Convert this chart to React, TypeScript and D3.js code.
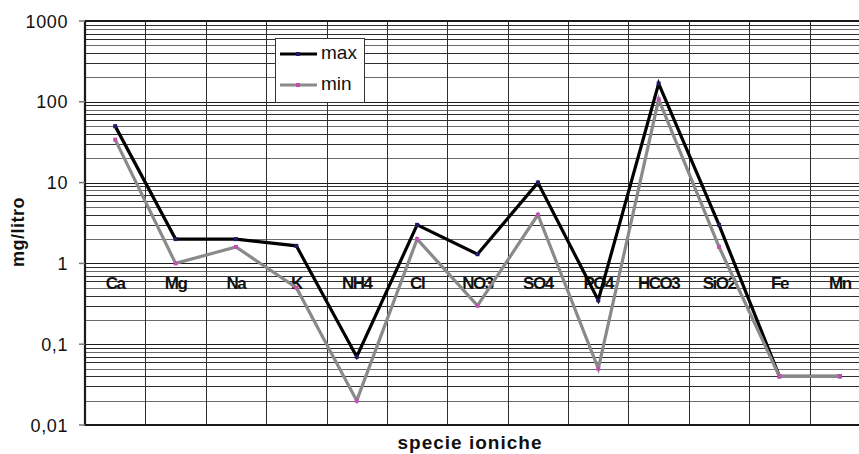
import { useEffect, useRef } from "react";
import * as d3 from "d3";

const categories = ["Ca", "Mg", "Na", "K", "NH4", "Cl", "NO3", "SO4", "PO4", "HCO3", "SiO2", "Fe", "Mn"];
const maxValues = [50, 2, 2, 1.65, 0.07, 3, 1.3, 10, 0.35, 168, 3, 0.04, 0.04];
const minValues = [34, 1, 1.6, 0.5, 0.02, 2, 0.3, 4, 0.05, 107, 1.6, 0.04, 0.04];
const yTicks = [1000, 100, 10, 1, 0.1, 0.01];
const yTickLabels = ["1000", "100", "10", "1", "0,1", "0,01"];

const width = 859;
const height = 454;
const marginLeft = 85;
const plotRight = 870; // the plot runs past the picture edge
const marginTop = 21;
const plotBottom = 425;

function App() {
  const ref = useRef(null);

  useEffect(() => {
    const svg = d3.select(ref.current);
    svg.selectAll("*").remove();

    const x = d3.scaleBand().domain(categories).range([marginLeft, plotRight]).padding(0);
    const y = d3.scaleLog().domain([0.01, 1000]).range([plotBottom, marginTop]);
    const cx = (c) => x(c) + x.bandwidth() / 2;

    const g = svg.append("g");

    // horizontal gridlines (major + minor)
    const gridVals = [];
    for (let e = -2; e <= 2; e++) {
      for (let k = 1; k <= 9; k++) gridVals.push(k * Math.pow(10, e));
    }
    g.append("g")
      .selectAll("line")
      .data(gridVals)
      .join("line")
        .attr("x1", marginLeft)
        .attr("x2", width)
        .attr("y1", d => Math.round(y(d)) + 0.5)
        .attr("y2", d => Math.round(y(d)) + 0.5)
        .attr("stroke", (d, i) => (i % 9 === 0 ? "#1a1a1a" : i % 3 === 1 ? "#6a6a6a" : "#2e2e2e"))
        .attr("stroke-width", 1);

    // vertical gridlines between categories
    g.append("g")
      .selectAll("line")
      .data(categories.slice(1))
      .join("line")
        .attr("x1", d => Math.round(x(d)) + 0.5)
        .attr("x2", d => Math.round(x(d)) + 0.5)
        .attr("y1", marginTop)
        .attr("y2", plotBottom)
        .attr("stroke", "#2e2e2e")
        .attr("stroke-width", 1);

    // top border
    g.append("line")
      .attr("x1", marginLeft).attr("x2", width)
      .attr("y1", y(1000)).attr("y2", y(1000))
      .attr("stroke", "#1a1a1a").attr("stroke-width", 2);

    // axes
    g.append("line")
      .attr("x1", marginLeft).attr("x2", width)
      .attr("y1", plotBottom).attr("y2", plotBottom)
      .attr("stroke", "#1a1a1a").attr("stroke-width", 2.2);
    g.append("line")
      .attr("x1", marginLeft).attr("x2", marginLeft)
      .attr("y1", marginTop).attr("y2", plotBottom + 1)
      .attr("stroke", "#1a1a1a").attr("stroke-width", 2.2);

    // y ticks + labels
    const yAxis = g.append("g");
    yAxis.selectAll("line")
      .data(yTicks)
      .join("line")
        .attr("x1", marginLeft - 6)
        .attr("x2", marginLeft)
        .attr("y1", d => y(d))
        .attr("y2", d => y(d))
        .attr("stroke", "#777")
        .attr("stroke-width", 1.5);
    yAxis.selectAll("text")
      .data(yTicks)
      .join("text")
        .attr("x", 68)
        .attr("y", d => y(d) + 6.5)
        .attr("text-anchor", "end")
        .attr("font-family", "Liberation Sans, Arial, sans-serif")
        .attr("font-size", 18)
        .attr("letter-spacing", 0.6)
        .attr("fill", "#111")
        .text((d, i) => yTickLabels[i]);

    // category labels, inside the plot just below 1
    g.append("g")
      .selectAll("text")
      .data(categories)
      .join("text")
        .attr("x", d => cx(d))
        .attr("y", 289)
        .attr("text-anchor", "middle")
        .attr("font-family", "Liberation Sans, Arial, sans-serif")
        .attr("font-size", 17)
        .attr("font-weight", "bold")
        .attr("letter-spacing", -1.5)
        .attr("fill", "#111")
        .text(d => d);

    // series
    const line = d3.line().x(d => cx(d.c)).y(d => y(d.v));
    const series = [
      { name: "max", values: maxValues, stroke: "#000", marker: "#1c1c66" },
      { name: "min", values: minValues, stroke: "#8a8a8a", marker: "#c24fb4" },
    ];
    series.forEach(s => {
      const pts = categories.map((c, i) => ({ c, v: s.values[i] }));
      g.append("path")
        .datum(pts)
        .attr("d", line)
        .attr("fill", "none")
        .attr("stroke", s.stroke)
        .attr("stroke-width", 3.2)
        .attr("stroke-linejoin", "miter");
      g.append("g")
        .selectAll("rect")
        .data(pts)
        .join("rect")
          .attr("x", d => cx(d.c) - 2)
          .attr("y", d => y(d.v) - 2)
          .attr("width", 4)
          .attr("height", 4)
          .attr("fill", s.marker);
    });

    // legend
    const legend = svg.append("g");
    legend.append("rect")
      .attr("x", 275.5).attr("y", 38.5)
      .attr("width", 89).attr("height", 64)
      .attr("fill", "#fff")
      .attr("stroke", "#333")
      .attr("stroke-width", 1);
    series.forEach((s, i) => {
      const ly = 54 + i * 31;
      legend.append("line")
        .attr("x1", 280).attr("x2", 317)
        .attr("y1", ly).attr("y2", ly)
        .attr("stroke", s.stroke)
        .attr("stroke-width", 3.2);
      legend.append("rect")
        .attr("x", 296).attr("y", ly - 2)
        .attr("width", 4).attr("height", 4)
        .attr("fill", s.marker);
      legend.append("text")
        .attr("x", 321)
        .attr("y", ly + 5)
        .attr("font-family", "Liberation Sans, Arial, sans-serif")
        .attr("font-size", 19)
        .attr("fill", "#111")
        .text(s.name);
    });

    // axis titles
    svg.append("text")
      .attr("transform", `translate(24, 232) rotate(-90)`)
      .attr("text-anchor", "middle")
      .attr("font-family", "Liberation Sans, Arial, sans-serif")
      .attr("font-size", 18)
      .attr("font-weight", "bold")
      .attr("letter-spacing", 0.5)
      .attr("fill", "#111")
      .text("mg/litro");

    svg.append("text")
      .attr("x", 470)
      .attr("y", 449)
      .attr("text-anchor", "middle")
      .attr("font-family", "Liberation Sans, Arial, sans-serif")
      .attr("font-size", 19)
      .attr("font-weight", "bold")
      .attr("letter-spacing", 1)
      .attr("fill", "#111")
      .text("specie ioniche");
  }, []);

  return (
    <svg
      ref={ref}
      width={width}
      height={height}
      style={{ position: "absolute", left: 0, top: 0, background: "#fff" }}
    />
  );
}

export default App;
